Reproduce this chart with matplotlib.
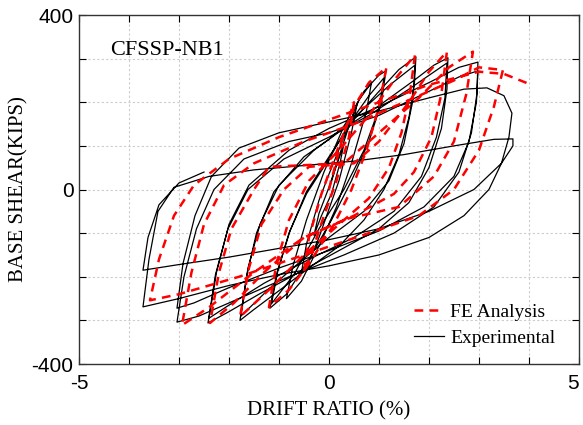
import numpy as np
import matplotlib.pyplot as plt
from matplotlib.transforms import ScaledTranslation

# ===============================================================
#  data (drift ratio [%], base shear [kips])
# ===============================================================
# experimental path, cycle by cycle
exp_drift = [0.0,
    0.15, 0.3, 0.22, 0.05, -0.15, -0.3, -0.2, 0.0,                                   # +-0.3
    0.2, 0.4, 0.56, 0.45, 0.2, 0.0, -0.2, -0.4, -0.55, -0.45, -0.2, 0.0,             # +-0.5
    0.3, 0.6, 0.85, 0.75, 0.45, 0.15, -0.2, -0.55, -0.85, -0.72, -0.45, -0.1,        # +-0.8
    0.3, 0.7, 1.0, 1.14, 1.05, 0.8, 0.45, 0.05, -0.4, -0.85, -1.18, -1.05, -0.8, -0.45, 0.0,  # +-1.1
    0.4, 0.8, 1.1, 1.0, 0.7, 0.3, -0.2, -0.7, -1.15, -1.02, -0.78, -0.45, 0.0,
    0.5, 1.0, 1.4, 1.74, 1.71, 1.6, 1.4, 1.1, 0.7, 0.2, -0.4, -1.0, -1.5, -1.78,    # +-1.75
    -1.65, -1.45, -1.1, -0.5, 0.0, 0.6, 1.2, 1.72, 1.68, 1.5, 1.2, 0.7, 0.0, -0.6, -1.2, -1.76,
    -1.62, -1.38, -1.0, -0.3, 0.3, 1.0, 1.7, 2.1, 2.38, 2.36, 2.25, 2.0, 1.6, 1.0, 0.2, -0.6, -1.4, -2.0, -2.42,  # +-2.4
    -2.27, -2.02, -1.62, -0.9, 0.0, 0.8, 1.6, 2.36, 2.32, 2.15, 1.85, 1.3, 0.5, -0.4, -1.3, -2.0, -2.4,
    -2.25, -2.0, -1.6, -0.8, 0.0, 1.0, 2.0, 2.6, 2.98, 2.96, 2.85, 2.6, 2.1, 1.3, 0.3, -0.8, -1.8, -2.6, -3.04,  # +-3.0
    -2.9, -2.65, -2.3, -1.7, -0.8, 0.0, 1.0, 2.0, 2.6, 2.98, 2.95, 2.8, 2.5, 1.9, 1.0, 0.0, -1.0, -2.0, -2.7, -3.04,
    -2.92, -2.68, -2.35, -1.8, -1.0, 0.0, 1.0, 2.0, 2.7, 3.16, 3.5, 3.66, 3.6, 3.45, 3.2, 2.7, 2.0, 1.0, 0.0, -1.0, -2.0, -3.0, -3.72,  # +-3.7
    -3.6, -3.42, -3.1, -2.4, -1.5, -0.5, 0.5, 1.5, 2.5, 3.3, 3.68, 3.68, 3.45, 2.9, 2.0, 1.0, 0.0, -1.0, -2.0, -3.0, -3.72,
    -3.62, -3.4, -3.0, -2.5]
exp_shear = [0,
    55, 105, 60, -10, -60, -105, -55, 5,
    75, 145, 195, 130, 20, -45, -110, -165, -190, -125, -25, 35,
    120, 205, 245, 180, 60, -40, -130, -210, -250, -175, -70, 40,
    145, 225, 262, 272, 200, 110, 20, -70, -160, -240, -272, -195, -100, -10, 70,
    150, 215, 256, 185, 90, 0, -90, -195, -262, -185, -95, -5, 75,
    160, 225, 275, 304, 245, 165, 80, 0, -70, -130, -180, -232, -275, -300,
    -200, -100, -5, 75, 115, 175, 238, 285, 205, 105, 20, -50, -110, -168, -228, -290,
    -180, -80, 10, 90, 140, 192, 250, 285, 302, 230, 140, 50, -30, -90, -140, -190, -240, -280, -306,
    -195, -90, 0, 70, 120, 170, 230, 290, 210, 120, 30, -50, -110, -160, -215, -265, -295,
    -190, -80, 10, 90, 140, 190, 245, 280, 292, 220, 130, 40, -40, -100, -150, -200, -250, -290, -304,
    -200, -90, 0, 70, 110, 130, 170, 225, 258, 272, 200, 110, 30, -40, -95, -140, -180, -225, -260, -272,
    -170, -60, 30, 95, 130, 155, 180, 210, 230, 233, 215, 175, 120, 60, 0, -60, -110, -150, -175, -195, -220, -250, -269,
    -160, -50, 5, 30, 45, 55, 65, 80, 100, 115, 116, 100, 60, 0, -50, -90, -115, -135, -155, -172, -185,
    -110, -35, 15, 40]

# finite element path
fe_drift = [0.0,
    0.25, 0.5, 0.4, 0.15, -0.1, -0.3, -0.5, -0.4, -0.15, 0.1,
    0.5, 0.8, 1.15, 1.0, 0.75, 0.45, 0.1, -0.4, -0.8, -1.2,
    -1.05, -0.8, -0.4, 0.2, 0.8, 1.3, 1.72,
    1.62, 1.45, 1.2, 0.8, 0.2, -0.5, -1.2, -1.78,
    -1.6, -1.35, -0.9, -0.4, 0.5, 1.0, 1.6, 2.0, 2.36,
    2.25, 2.05, 1.7, 1.3, 0.5, -0.5, -1.3, -1.9, -2.38,
    -2.2, -1.95, -1.5, -1.2, 0.3, 1.0, 1.8, 2.4, 2.88,
    2.75, 2.5, 2.1, 1.4, 0.4, -0.5, -1.5, -2.4, -2.94,
    -2.75, -2.5, -2.1, -1.5, -0.5, 0.5, 1.5, 2.5, 3.0, 3.48,
    3.3, 3.0, 2.5, 1.8, 0.8, -0.5, -1.8, -3.0, -3.58,
    -3.4, -3.1, -2.7, -2.0, -1.0, 0.0, 1.0, 2.0, 3.0, 3.5, 3.96]
fe_shear = [0,
    110, 200, 120, 20, -60, -130, -190, -110, -10, 70,
    190, 245, 280, 190, 90, 0, -80, -170, -230, -270,
    -170, -70, 20, 90, 170, 250, 308,
    220, 130, 50, -20, -80, -150, -230, -292,
    -180, -80, 0, 52, 60, 110, 200, 270, 316,
    220, 120, 40, -10, -60, -110, -190, -260, -306,
    -190, -90, 0, 52, 60, 130, 210, 280, 316,
    220, 110, 30, -40, -66, -110, -190, -270, -311,
    -190, -80, 10, 60, 110, 150, 200, 250, 280, 274,
    190, 90, 0, -60, -100, -150, -200, -240, -254,
    -160, -60, 10, 70, 120, 160, 200, 240, 270, 265, 244]

# ==============================================================
#  plot
# ==============================================================
fig = plt.figure(figsize=(5.83, 4.25), dpi=100)
ax = fig.add_axes([0.1355, 0.1435, 0.8575, 0.8212])

ax.plot(fe_drift, fe_shear, color='#ff0000', linewidth=1.8, dashes=(3.5, 2.5), label='FE Analysis', zorder=3)
ax.plot(exp_drift, exp_shear, color='k', linewidth=0.9, label='Experimental', zorder=2)

ax.set_xlim(-5, 5)
ax.set_ylim(-400, 400)
ax.set_xticks(np.arange(-5, 6, 1))
ax.set_xticklabels(['-5', '', '', '', '', '0', '', '', '', '', '5'])
ax.set_yticks(np.arange(-400, 401, 100))
ax.set_yticklabels(['-400', '', '', '', '0', '', '', '', '400'])
ax.tick_params(direction='in', top=True, right=True, length=5, width=0.8, labelsize=15)
ax.tick_params(axis='x', pad=7)
ax.tick_params(axis='y', pad=4)
for lab in ax.get_xticklabels() + ax.get_yticklabels():
    lab.set_fontfamily('Liberation Sans')
# last x label sits on the figure edge, nudge it in a bit
xl = ax.get_xticklabels()[-1]
xl.set_transform(xl.get_transform() + ScaledTranslation(-4/72, 0, fig.dpi_scale_trans))

ax.grid(True, color='0.8', linestyle=(0, (2, 2)), linewidth=0.8)
for s in ax.spines.values():
    s.set_linewidth(1.0)
    s.set_color('0.2')

ax.set_xlabel('DRIFT RATIO (%)', fontfamily='Liberation Serif', fontsize=15, labelpad=6)
ax.set_ylabel('BASE SHEAR(KIPS)', fontfamily='Liberation Serif', fontsize=15, labelpad=2)

ax.text(-4.38, 318, 'CFSSP-NB1', fontfamily='Liberation Serif', fontsize=16, ha='left', va='center')

leg = ax.legend(loc='lower right', frameon=False, prop={'family': 'Liberation Serif', 'size': 14},
                handlelength=1.5, handletextpad=0.35, labelspacing=0.4, borderaxespad=0.6,
                bbox_to_anchor=(0.992, -0.006))

fig.savefig('out.png', dpi=100)
